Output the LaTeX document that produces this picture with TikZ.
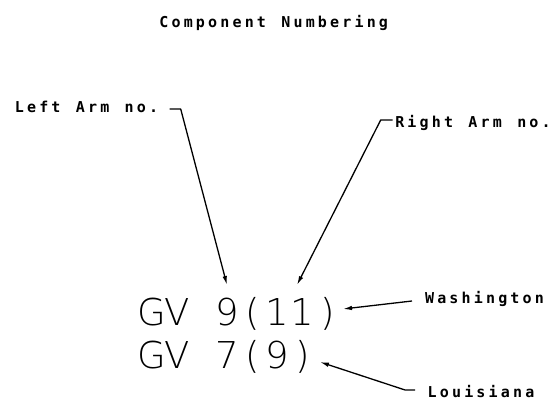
\documentclass[tikz,border=0pt]{standalone}
\usepackage{fontspec}
\usetikzlibrary{arrows.meta}
\newfontfamily\lblfam{DejaVu Sans Mono}
\newfontfamily\bigfam{DejaVu Sans}[UprightFont={* ExtraLight}]
\ExplSyntaxOn
\NewDocumentCommand\monostr{mm}{\str_map_inline:nn {#2} {\makebox[#1][c]{##1}}}
\ExplSyntaxOff
\begin{document}
\begin{tikzpicture}[x=1pt,y=-1pt,
 lbl/.style={font=\lblfam\bfseries\fontsize{15}{18}\selectfont, inner sep=0pt, outer sep=0pt, anchor=base},
 big/.style={font=\bigfam\fontsize{37}{44}\selectfont, inner sep=0pt, outer sep=0pt, anchor=base west},
 lead/.style={line width=1.3pt, -{Latex[length=9pt,width=4.5pt]}, line join=round}]
\useasboundingbox[fill=white] (0,0) rectangle (555,402);
\node[lbl] (title) at (273.7,27.5) {\monostr{12.2pt}{Component Numbering}};
\node[lbl] (leftlbl) at (86.5,112.5) {\monostr{12.2pt}{Left Arm no.}};
\node[lbl] (rightlbl) at (473,127) {\monostr{12.2pt}{Right Arm no.}};
\node[lbl] (wash) at (484.5,303.5) {\monostr{12.2pt}{Washington}};
\node[lbl] (lou) at (481,397) {\monostr{12.2pt}{Louisiana}};
\node[big] (gv1) at (139.6,325) {\monostr{25.1pt}{GV 9(11)}};
\node[big] (gv2) at (139.6,368) {\monostr{25.1pt}{GV 7(9)}};
\coordinate (tipL) at (227,285);
\coordinate (tipR) at (297,285);
\coordinate (tipW) at (343,309);
\coordinate (tipLo) at (320,362);
\draw[lead] ([shift={(10pt,3.5pt)}]leftlbl.base east) -- ++(11,0) -- (tipL);
\draw[lead] ([shift={(-1pt,7pt)}]rightlbl.base west) -- ++(-12,0) -- (tipR);
\draw[lead] ([shift={(-11.5pt,2.5pt)}]wash.base west) -- (tipW);
\draw[lead] ([shift={(-11pt,7pt)}]lou.base west) -- ++(-10,0) -- (tipLo);
\end{tikzpicture}
\end{document}
